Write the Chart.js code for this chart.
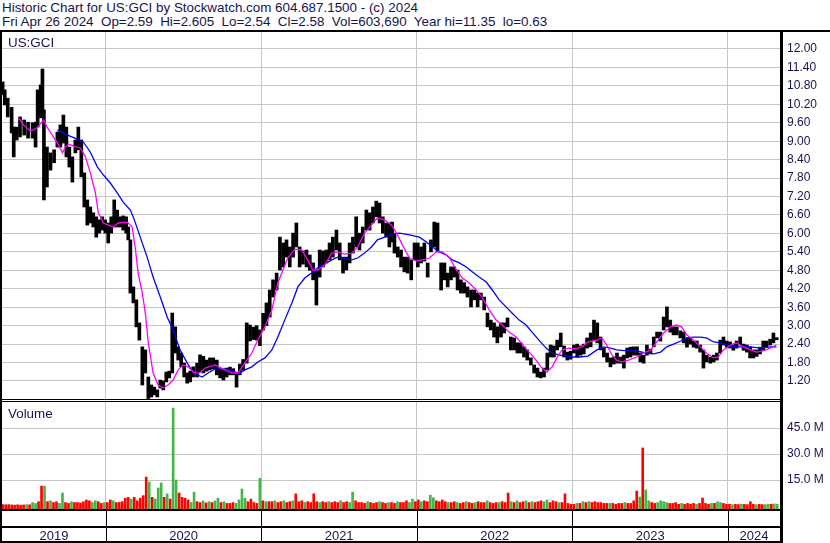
<!DOCTYPE html>
<html>
<head>
<meta charset="utf-8">
<script src="https://cdn.jsdelivr.net/npm/chart.js@4.4.1/dist/chart.umd.min.js"></script>
<style>
  body { margin: 0; width: 830px; height: 543px; overflow: hidden; position: relative; background: #fff;
         font-family: "Liberation Sans", Arial, sans-serif; color: #141450; }
  .txt { position: absolute; font-size: 13.4px; line-height: 15px; white-space: pre; z-index: 5; }
  .ln { position: absolute; background: #000; z-index: 6; }
  #priceBox { position: absolute; left: 0; top: 32px; }
  #volBox { position: absolute; left: 0; top: 402px; }
</style>
</head>
<body>
<div class="txt" style="left:2px;top:0px">Historic Chart for US:GCI by Stockwatch.com 604.687.1500 - (c) 2024</div>
<div class="txt" style="left:2px;top:14px">Fri Apr 26 2024  Op=2.59  Hi=2.605  Lo=2.54  Cl=2.58  Vol=603,690  Year hi=11.35  lo=0.63</div>

<div id="priceBox"><canvas id="price" width="830" height="367"></canvas></div>
<div id="volBox"><canvas id="vol" width="830" height="141"></canvas></div>

<div class="txt" style="left:8px;top:35px">US:GCI</div>
<div class="txt" style="left:8px;top:406px">Volume</div>

<!-- frame lines -->
<div class="ln" style="left:0;top:30px;width:830px;height:2px"></div>
<div class="ln" style="left:0;top:30px;width:2px;height:513px"></div>
<div class="ln" style="left:780px;top:30px;width:3px;height:513px"></div>
<div class="ln" style="left:0;top:399px;width:783px;height:1px"></div>
<div class="ln" style="left:0;top:401px;width:783px;height:1px"></div>
<div class="ln" style="left:0;top:509px;width:783px;height:2px"></div>
<div class="ln" style="left:0;top:526px;width:783px;height:2px"></div>
<div class="ln" style="left:0;top:541px;width:783px;height:2px"></div>

<script>
// x unit = weeks since the first week of May 2019
const firstWeek = -0.22;
const lastWeek = 259.9;
const years = ['2019', '2020', '2021', '2022', '2023', '2024'];
const yearBreaks = [34.5, 86.5, 138.5, 190.5, 242.5];

const priceTicks = [1.2, 1.8, 2.4, 3.0, 3.6, 4.2, 4.8, 5.4, 6.0, 6.6, 7.2, 7.8, 8.4, 9.0, 9.6, 10.2, 10.8, 11.4, 12.0];
const volTicks = [15, 30, 45];

// price bars (high / low)
const barWeek = [
  0, 0.7, 1.7, 3, 3.7, 4.7, 5.8, 7.2, 8.5, 10,
  11, 11.7, 12.7, 13.3, 13.8, 14.8, 16, 17.2, 18.3, 19.3,
  20.3, 21.3, 22.3, 23.3, 24.3, 25.3, 26.3, 27.3, 28.3, 29.3,
  30.3, 31.3, 32.3, 33.3, 34.3, 35.3, 36.3, 37.3, 38.3, 39.3,
  40.3, 41.3, 42, 42.7, 43.7, 44.7, 45.7, 46.7, 47.7, 48.7,
  49.7, 50.7, 51.7, 52.7, 53.7, 54.7, 55.7, 56.7, 57.7, 58.7,
  59.7, 60.7, 61.7, 62.7, 63.7, 65,
  66, 67.1, 68.2, 69.3, 70.4, 71.6, 72.7, 73.8, 74.9, 76,
  77.1, 78.2, 79.3, 80.4, 81.6, 82.7, 83.8, 84.9, 86, 87.1,
  88.2, 89.3, 90.4, 91.6, 92.7, 93.8, 94.9, 96, 97.1, 98.2,
  99.3, 100.4, 101.6, 102.7, 103.8, 104.9, 106, 107.1, 108.2, 109.3,
  110.4, 111.6, 112.7, 113.8, 114.9, 116, 117.1, 118.2, 119.3, 120.4,
  121.6, 122.7, 123.8, 124.9, 126, 127.1, 128.2, 129.3,
  130.2, 131, 132.1, 133.2, 134.3, 135.4, 136.6, 137.7, 138.8, 139.9, 141,
  142.1, 143.2, 144.3, 145.4, 146.6, 147.7, 148.8, 149.9, 151, 152.1,
  153.2, 154.3, 155.4, 156.6, 157.7, 158.8, 159.9, 161, 162.1, 163.2,
  164.3, 165.4, 166.6, 167.7, 168.8, 169.9, 171, 172.1, 173.2, 174.3,
  175.4, 176.6, 177.7, 178.8, 179.9, 181, 182.1, 183.2, 184.3, 185.4,
  186.6, 187.7, 188.8, 189.9, 191, 192.1, 193.2, 194.3, 195.4,
  196.6, 197.7, 198.8, 199.9, 201, 202.1, 203.2, 204.3, 205.4, 206.6,
  207.7, 208.8, 209.9, 211, 212.1, 213.2, 214.3, 215.4, 216.6, 217.7,
  218.8, 219.9, 221, 222.1, 223.2, 224.3, 225.4, 226.6, 227.7, 228.8,
  229.9, 231, 232.1, 233.2, 234.3, 235.4, 236.6, 237.7, 238.8, 239.9,
  241, 242.1, 243.2, 244.3, 245.4, 246.6, 247.7, 248.8, 249.9, 251,
  252.1, 253.2, 254.3, 255.4, 256.6, 257.7, 258.8
];
const barHigh = [
  10.93, 10.67, 10.40, 10.10, 9.46, 9.46, 9.79, 9.69, 9.62, 9.60,
  9.62, 10.67, 10.83, 11.35, 10.02, 8.81, 8.62, 8.72, 9.30, 9.53,
  9.85, 9.46, 8.81, 8.49, 9.04, 9.46, 9.04, 7.97, 7.09, 6.86,
  6.67, 6.54, 6.44, 6.54, 6.44, 6.34, 6.54, 7.09, 6.76, 6.54,
  6.57, 6.54, 6.21, 5.79, 4.26, 3.84, 3.09, 2.31, 2.21, 1.33,
  1.07, 1.00, 0.91, 1.23, 1.20, 1.49, 1.52, 3.41, 2.96, 2.31,
  2.11, 1.78, 1.46, 1.52, 1.66, 1.78,
  2.05, 2.00, 1.88, 1.95, 1.95, 1.88, 1.60, 1.56, 1.62, 1.65,
  1.60, 1.49, 1.75, 1.90, 3.09, 3.02, 2.95, 3.00, 2.86, 3.40,
  3.74, 4.16, 4.49, 4.71, 5.88, 5.69, 5.79, 5.56, 6.01, 6.34,
  5.56, 5.43, 5.46, 5.30, 5.04, 4.81, 5.46, 5.43, 5.46, 5.69,
  5.88, 6.11, 5.69, 5.23, 5.23, 5.69, 5.88, 6.54, 6.01, 6.21,
  6.76, 6.67, 6.86, 7.05, 6.99, 6.54, 6.34, 6.34,
  6.37, 6.01, 5.56, 5.46, 5.23, 5.23, 5.14, 5.69, 5.69, 5.56, 5.69,
  5.04, 5.79, 6.37, 6.34, 5.04, 5.04, 4.71, 4.91, 4.91, 4.81,
  4.49, 4.40, 4.26, 4.16, 4.16, 4.06, 4.06, 3.93, 3.41, 3.18,
  3.09, 2.96, 3.09, 3.09, 3.25, 2.63, 2.60, 2.44, 2.44, 2.31,
  2.21, 1.95, 1.72, 1.62, 1.49, 1.62, 2.11, 2.37, 2.34, 2.53,
  2.76, 2.34, 2.14, 2.17, 2.37, 2.40, 2.34, 2.40, 2.60,
  2.76, 3.18, 3.09, 2.63, 2.27, 2.11, 1.95, 1.98, 2.11, 1.98,
  2.04, 2.27, 2.30, 2.31, 2.31, 2.11, 2.04, 2.37, 2.24, 2.63,
  2.79, 2.79, 3.28, 3.61, 3.18, 2.96, 2.96, 2.83, 2.79, 2.60,
  2.60, 2.50, 2.50, 2.37, 2.21, 2.04, 1.98, 2.04, 2.11, 2.53,
  2.63, 2.50, 2.47, 2.40, 2.50, 2.63, 2.40, 2.37, 2.31, 2.21,
  2.21, 2.30, 2.50, 2.50, 2.56, 2.76, 2.61
];
const barLow = [
  10.51, 10.18, 9.79, 9.27, 8.49, 9.04, 9.14, 9.20, 9.10, 9.10,
  8.81, 9.46, 9.76, 9.79, 7.09, 7.51, 8.06, 8.30, 8.81, 8.81,
  8.94, 8.49, 8.16, 7.67, 8.62, 8.72, 7.84, 6.86, 6.27, 6.34,
  6.21, 5.88, 6.01, 6.11, 6.01, 5.69, 6.01, 6.21, 6.21, 6.21,
  6.11, 6.01, 5.79, 4.06, 3.74, 2.96, 2.53, 1.07, 1.46, 0.63,
  0.68, 0.75, 0.68, 0.97, 0.91, 1.17, 1.30, 1.46, 2.11, 1.88,
  1.66, 1.33, 1.13, 1.17, 1.33, 1.33,
  1.50, 1.46, 1.52, 1.56, 1.60, 1.40, 1.30, 1.23, 1.33, 1.40,
  1.40, 1.00, 1.40, 1.55, 1.78, 2.50, 2.55, 2.53, 2.35, 2.86,
  3.00, 3.28, 3.93, 4.16, 4.81, 4.91, 5.23, 4.91, 5.23, 5.56,
  4.91, 5.00, 4.91, 4.80, 4.49, 3.67, 4.58, 4.91, 5.04, 5.14,
  5.23, 5.46, 5.14, 4.71, 4.81, 5.04, 5.36, 5.56, 5.46, 5.69,
  6.11, 6.11, 6.34, 6.54, 6.34, 6.01, 5.88, 5.56,
  5.72, 5.36, 5.23, 4.91, 4.75, 4.71, 4.49, 5.14, 4.91, 5.04, 5.10,
  4.58, 5.40, 5.56, 5.40, 4.16, 4.49, 4.26, 4.49, 4.58, 4.16,
  4.06, 4.06, 3.93, 3.61, 3.84, 3.61, 3.84, 3.51, 2.96, 2.86,
  2.63, 2.44, 2.63, 2.76, 2.96, 2.21, 2.21, 2.11, 2.11, 1.98,
  1.88, 1.72, 1.46, 1.33, 1.30, 1.33, 1.56, 1.98, 1.98, 2.21,
  2.31, 1.98, 1.88, 1.91, 2.11, 1.98, 2.04, 2.08, 2.27,
  2.31, 2.53, 2.44, 2.21, 1.98, 1.82, 1.66, 1.75, 1.78, 1.78,
  1.62, 1.95, 1.98, 2.04, 2.04, 1.82, 1.78, 2.04, 2.08, 2.31,
  2.60, 2.50, 2.86, 2.96, 2.79, 2.70, 2.70, 2.60, 2.44, 2.30,
  2.40, 2.30, 2.27, 2.14, 1.62, 1.82, 1.78, 1.82, 1.88, 2.11,
  2.37, 2.30, 2.27, 2.20, 2.27, 2.37, 2.20, 2.14, 1.95, 1.95,
  2.00, 2.08, 2.20, 2.30, 2.37, 2.44, 2.54
];

// short moving average (magenta)
const fastWeek = [
  5.3, 7, 9.3, 11, 12.3, 13.7, 15, 17, 18.7, 20, 21, 22, 23.7, 26, 27.7, 29.3, 31, 32, 33.7, 35.3,
  37, 38.7, 41.7, 43.3, 44.3, 45.3, 46.7, 47.7, 48.7, 50.3, 52, 53.7, 55.3, 57, 58.7, 60.3, 62, 63.7, 65.7, 67.7,
  71, 74.3, 76.7, 78.7, 81, 83.3, 85.3, 87.7, 90, 92, 93.7, 95.3, 97.7, 100, 102, 103.7, 105.3, 107.7, 110, 112,
  114.3, 116.7, 118.7, 121, 123.3, 125.3, 127.7, 130, 131.7, 133.7, 136, 138.3, 140.3, 142.7, 145, 147, 149.3, 151.7, 153.7, 156,
  158.3, 160.3, 162.7, 165, 167, 169.3, 171.7, 173.7, 176, 178.3, 180.3, 182, 183.7, 185.3, 187, 189.3, 191.7, 193.7, 195.7, 198.7,
  200.3, 202, 203.7, 205.3, 207, 209.3, 212, 214.3, 216.7, 218.7, 221, 223.3, 225.3, 227, 228.7, 231, 233.3, 235.3, 237.7, 239.3,
  241, 243.3, 245.3, 247.7, 250, 252, 254.3, 256.7, 258.7
];
const fastValue = [
  9.76, 9.53, 9.33, 9.40, 9.53, 9.69, 9.43, 9.14, 8.88, 8.62, 8.81, 8.91, 8.84, 8.78, 8.49, 7.97, 7.32, 6.67, 6.34, 6.27,
  6.21, 6.34, 6.37, 6.21, 5.56, 4.71, 4.06, 3.41, 2.44, 1.46, 1.07, 0.97, 1.07, 1.23, 1.56, 1.72, 1.66, 1.49, 1.45, 1.62,
  1.72, 1.56, 1.46, 1.46, 1.79, 2.11, 2.53, 2.96, 3.51, 4.39, 4.81, 5.20, 5.49, 5.46, 5.14, 4.81, 4.81, 4.97, 5.36, 5.40,
  5.33, 5.36, 5.56, 6.01, 6.27, 6.50, 6.44, 6.27, 6.01, 5.62, 5.20, 5.10, 5.14, 5.20, 5.40, 5.40, 5.23, 4.81, 4.55, 4.39,
  4.16, 3.93, 3.51, 3.18, 3.02, 2.79, 2.63, 2.40, 2.14, 1.88, 1.62, 1.49, 1.66, 1.95, 2.21, 2.27, 2.24, 2.31, 2.47, 2.53,
  2.60, 2.37, 2.05, 1.88, 1.82, 1.88, 1.98, 2.11, 2.21, 2.47, 2.76, 2.96, 3.02, 2.96, 2.70, 2.53, 2.31, 2.11, 1.95, 1.98,
  2.21, 2.37, 2.44, 2.31, 2.21, 2.14, 2.18, 2.27, 2.37
];

// long moving average (blue)
const slowWeek = [
  18.3, 21.7, 25, 27, 29.3, 31.7, 33.7, 36, 38.3, 40.3, 42.7, 43.7, 46, 48.3, 50.3, 52.7, 55, 57, 59.3, 61.7,
  63.7, 66.7, 68.7, 71, 74.3, 76.7, 78.7, 81, 83.3, 85.3, 87.7, 90, 92, 94.3, 96.7, 98.7, 101, 103.3, 105.3, 107.7,
  110, 112, 114.3, 116.7, 118.7, 121, 123.3, 125.3, 127.7, 130, 132.7, 136, 139.3, 141.7, 143.7, 146, 148.3, 150.3, 152.7, 155,
  157, 159.3, 161.7, 163.7, 166, 168.3, 170.3, 172.7, 175, 177, 179.3, 181.7, 183.7, 186, 188.3, 190.3, 192.7, 195.7, 198.7, 201,
  203.3, 205.3, 208.7, 212, 215.3, 217.7, 220, 222, 224.3, 226.7, 228.7, 231, 233.3, 235.3, 237.7, 240, 242, 244.3, 246.7, 250,
  253.3, 256.7, 258.7
];
const slowValue = [
  9.37, 9.20, 9.07, 8.97, 8.65, 8.16, 7.90, 7.64, 7.32, 7.02, 6.76, 6.53, 5.88, 5.23, 4.58, 3.93, 3.28, 2.86, 2.21, 1.79,
  1.46, 1.33, 1.46, 1.59, 1.59, 1.53, 1.43, 1.56, 1.66, 1.82, 1.95, 2.21, 2.63, 3.18, 3.74, 4.26, 4.55, 4.71, 4.88, 5.01,
  5.14, 5.23, 5.20, 5.14, 5.20, 5.36, 5.56, 5.79, 5.88, 5.98, 6.01, 5.95, 5.88, 5.72, 5.56, 5.40, 5.30, 5.14, 5.04, 4.91,
  4.75, 4.58, 4.42, 4.16, 3.84, 3.61, 3.41, 3.18, 3.02, 2.79, 2.53, 2.27, 2.11, 2.05, 2.01, 1.98, 1.98, 2.01, 2.21, 2.31,
  2.27, 2.21, 2.18, 2.18, 2.11, 2.08, 2.14, 2.31, 2.40, 2.50, 2.60, 2.63, 2.63, 2.60, 2.47, 2.44, 2.37, 2.31, 2.31, 2.31,
  2.27, 2.31, 2.31
];

// weekly volume in millions, and whether the week closed up (1) or down (0)
const volume = [
  0.8, 0.7, 0.8, 0.6, 0.5, 0.7, 0.5, 0.6, 0.8, 0.7,
  2.0, 1.5, 2.5, 11.5, 11.5, 2.5, 3.0, 2.0, 2.5, 1.5,
  7.5, 2.0, 1.5, 2.5, 2.0, 2.0, 1.8, 2.5, 3.5, 3.0,
  2.0, 3.0, 2.5, 1.5, 2.0, 2.0, 3.5, 3.0, 2.0, 2.0,
  2.5, 4.5, 5.0, 4.0, 5.0, 3.0, 4.5, 6.0, 16.7, 13.8,
  5.0, 4.0, 10.4, 13.3, 5.0, 7.0, 4.0, 56.5, 15.0, 7.5,
  5.0, 4.5, 3.5, 2.0, 8.0, 2.5, 2.0, 3.0, 1.8, 2.5,
  2.0, 3.0, 4.5, 2.0, 2.5, 1.5, 1.5, 2.0, 1.5, 3.5,
  9.8, 4.5, 2.5, 4.0, 2.0, 1.5, 16.0, 3.0, 2.5, 2.5,
  2.5, 3.0, 2.0, 2.5, 3.0, 2.0, 2.5, 3.0, 7.0, 2.5,
  3.0, 2.0, 2.5, 2.0, 7.0, 2.5, 2.0, 2.5, 2.0, 2.5,
  2.0, 2.5, 2.0, 3.0, 2.0, 2.5, 2.0, 8.0, 3.0, 2.0,
  2.0, 1.5, 2.5, 2.0, 1.5, 2.0, 2.5, 2.0, 1.5, 2.0,
  2.0, 1.5, 2.5, 2.0, 2.0, 3.0, 2.0, 4.0, 2.5, 3.5,
  2.5, 3.0, 2.5, 6.3, 4.8, 3.0, 2.5, 3.5, 2.5, 2.0,
  2.0, 2.5, 2.0, 1.5, 2.0, 2.5, 2.0, 1.5, 2.0, 2.5,
  2.0, 2.0, 3.0, 2.0, 1.5, 2.0, 2.0, 2.5, 2.0, 7.5,
  2.5, 2.0, 3.0, 2.0, 2.5, 3.0, 2.0, 2.5, 2.0, 2.5,
  3.0, 2.5, 3.5, 2.0, 3.0, 2.5, 2.0, 2.0, 7.0, 1.5,
  1.0, 1.0, 1.5, 1.5, 2.5, 2.0, 2.5, 2.0, 2.5, 2.0,
  2.0, 1.5, 1.5, 1.5, 1.5, 1.0, 1.5, 1.5, 2.0, 1.5,
  1.5, 3.0, 8.6, 5.2, 33.5, 9.2, 3.0, 2.0, 1.5, 2.0,
  3.0, 2.5, 2.0, 1.5, 1.5, 2.0, 1.0, 1.5, 1.0, 1.5,
  1.0, 1.5, 1.0, 1.5, 4.6, 1.5, 1.0, 1.5, 1.5, 2.5,
  2.0, 1.5, 1.0, 1.0, 0.8, 1.0, 0.8, 1.0, 1.0, 0.8,
  2.5, 1.0, 0.8, 1.0, 0.8, 0.8, 1.0, 1.0, 1.2, 1.0
];
const volumeUp = [
  0, 0, 0, 0, 0, 0, 0, 0, 1, 0,
  1, 1, 0, 0, 1, 0, 1, 0, 0, 1,
  1, 0, 0, 1, 0, 0, 0, 0, 0, 0,
  1, 1, 0, 0, 1, 0, 0, 1, 0, 0,
  0, 0, 0, 1, 0, 0, 0, 0, 0, 1,
  0, 1, 1, 1, 0, 1, 0, 1, 1, 0,
  0, 0, 0, 1, 1, 0, 0, 1, 0, 1,
  0, 1, 1, 0, 1, 0, 0, 0, 1, 1,
  1, 1, 0, 0, 0, 0, 1, 0, 1, 0,
  0, 1, 0, 0, 1, 0, 0, 1, 0, 0,
  0, 1, 0, 0, 0, 0, 1, 0, 0, 1,
  0, 0, 0, 1, 0, 0, 1, 1, 0, 0,
  0, 0, 1, 0, 0, 0, 1, 0, 0, 1,
  0, 0, 1, 0, 0, 0, 1, 1, 0, 0,
  1, 0, 0, 1, 1, 0, 0, 0, 0, 1,
  0, 0, 1, 0, 0, 1, 0, 0, 1, 0,
  0, 0, 1, 0, 0, 0, 1, 0, 0, 0,
  1, 0, 1, 0, 0, 1, 0, 1, 0, 0,
  0, 1, 1, 0, 0, 0, 1, 0, 0, 0,
  0, 0, 1, 0, 1, 0, 1, 0, 0, 0,
  0, 0, 0, 1, 0, 0, 0, 0, 1, 0,
  0, 0, 0, 1, 0, 1, 1, 0, 0, 1,
  1, 1, 1, 0, 0, 0, 0, 1, 0, 0,
  0, 0, 1, 0, 0, 0, 0, 1, 0, 1,
  1, 0, 0, 0, 1, 0, 0, 1, 0, 0,
  0, 0, 1, 0, 0, 1, 1, 0, 1, 1
];

const textColor = '#141450';
const gridColor = '#c6c6c6';
Chart.defaults.font.family = '"Liberation Sans", Arial, sans-serif';
Chart.defaults.font.size = 12;
Chart.defaults.color = textColor;

const yearMids = years.map((y, i) => {
  const a = i === 0 ? firstWeek : yearBreaks[i - 1];
  const b = i === years.length - 1 ? lastWeek : yearBreaks[i];
  return (a + b) / 2;
});

// keep the plot area flush with the frame: no extra room for edge labels
const noEdgePadding = s => { s.paddingTop = 0; s.paddingBottom = 0; s.paddingLeft = 0; s.paddingRight = 0; };

// black separators between year labels, below the volume panel
const yearRowLines = {
  id: 'yearRowLines',
  afterDraw(chart) {
    const { ctx, chartArea, scales } = chart;
    ctx.save();
    ctx.fillStyle = '#000';
    yearBreaks.forEach(b => {
      const px = Math.round(scales.x.getPixelForValue(b));
      ctx.fillRect(px, chartArea.bottom, 1, chart.height - chartArea.bottom - 2);
    });
    ctx.restore();
  }
};

new Chart(document.getElementById('price'), {
  type: 'bar',
  data: {
    datasets: [
      {
        type: 'line', label: 'MA fast', order: 0,
        data: fastWeek.map((w, i) => ({ x: w, y: fastValue[i] })),
        borderColor: '#ff00ff', borderWidth: 1.3, pointRadius: 0, tension: 0,
      },
      {
        type: 'line', label: 'MA slow', order: 1,
        data: slowWeek.map((w, i) => ({ x: w, y: slowValue[i] })),
        borderColor: '#0000ff', borderWidth: 1.3, pointRadius: 0, tension: 0,
      },
      {
        type: 'bar', label: 'US:GCI', order: 2,
        data: barWeek.map((w, i) => ({ x: w, y: [barLow[i], barHigh[i]] })),
        backgroundColor: '#000', barThickness: 3,
      },
    ],
  },
  options: {
    responsive: false,
    animation: false,
    layout: { padding: { left: 2, right: 0, top: 0, bottom: 0 } },
    plugins: { legend: { display: false }, tooltip: { enabled: false } },
    scales: {
      x: {
        type: 'linear', min: firstWeek, max: lastWeek, offset: false,
        afterBuildTicks: s => { s.ticks = yearBreaks.map(v => ({ value: v })); },
        afterFit: s => { s.height = 0; noEdgePadding(s); },
        ticks: { display: false },
        grid: { color: gridColor, drawTicks: false, offset: false },
        border: { display: false },
      },
      y: {
        position: 'right', min: 0.614, max: 12.553,
        afterBuildTicks: s => { s.ticks = priceTicks.map(v => ({ value: v })); },
        afterFit: s => { s.width = 50; noEdgePadding(s); },
        ticks: { padding: 7, color: textColor, callback: v => Number(v).toFixed(2) },
        grid: { color: gridColor, drawTicks: false },
        border: { display: false },
      },
    },
  },
});

new Chart(document.getElementById('vol'), {
  type: 'bar',
  data: {
    datasets: [{
      label: 'Volume',
      data: volume.map((v, i) => ({ x: i, y: v })),
      backgroundColor: volumeUp.map(u => (u ? '#46b446' : '#ff0000')),
      barThickness: 2,
      base: -1.73,
    }],
  },
  options: {
    responsive: false,
    animation: false,
    layout: { padding: { left: 2, right: 0, top: 0, bottom: 0 } },
    plugins: { legend: { display: false }, tooltip: { enabled: false } },
    scales: {
      x: {
        type: 'linear', min: firstWeek, max: lastWeek, offset: false,
        afterBuildTicks: s => {
          s.ticks = yearBreaks.concat(yearMids).sort((a, b) => a - b).map(v => ({ value: v }));
        },
        afterFit: s => { s.height = 34; noEdgePadding(s); },
        ticks: {
          autoSkip: false, maxRotation: 0, padding: 20, color: textColor, font: { size: 13 },
          callback: v => { const k = yearMids.indexOf(v); return k >= 0 ? years[k] : ''; },
        },
        grid: {
          drawTicks: false, offset: false,
          color: c => (c.tick && yearBreaks.includes(c.tick.value) ? gridColor : 'rgba(0,0,0,0)'),
        },
        border: { display: false },
      },
      y: {
        position: 'right', min: -1.73, max: 60,
        afterBuildTicks: s => { s.ticks = volTicks.map(v => ({ value: v })); },
        afterFit: s => { s.width = 50; noEdgePadding(s); },
        ticks: { padding: 7, color: textColor, callback: v => Number(v).toFixed(1) + ' M' },
        grid: { color: gridColor, drawTicks: false },
        border: { display: false },
      },
    },
  },
  plugins: [yearRowLines],
});
</script>
</body>
</html>
